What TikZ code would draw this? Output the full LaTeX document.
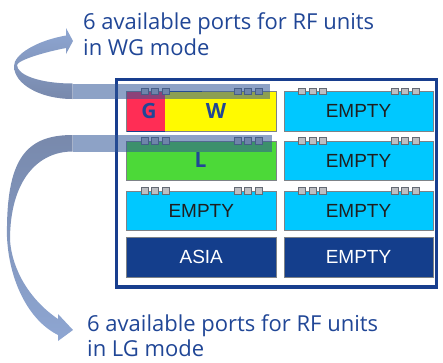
\documentclass[tikz,border=0pt]{standalone}
\usepackage{fontspec}
\setmainfont{Open Sans}
\newfontfamily\arialfont{Liberation Sans}

\definecolor{nokiablue}{RGB}{32,70,150}
\definecolor{framebl}{RGB}{24,62,142}
\definecolor{cyanmod}{RGB}{0,200,255}
\definecolor{darkmodc}{RGB}{20,62,140}
\definecolor{modborder}{RGB}{125,130,135}
\definecolor{gred}{RGB}{255,45,85}
\definecolor{wyellow}{RGB}{255,250,0}
\definecolor{lgreen}{RGB}{76,217,56}
\definecolor{bandblue}{RGB}{47,85,151}
\definecolor{portfill}{RGB}{188,190,194}
\definecolor{portdraw}{RGB}{100,106,116}
\definecolor{ribbonlight}{RGB}{142,166,210}
\definecolor{ribbondark}{RGB}{120,137,172}

\tikzset{
  module/.style={draw=modborder, line width=0.9pt, minimum width=149.5pt,
    minimum height=39.5pt, inner sep=0pt, outer sep=0pt, anchor=north west,
    font=\arialfont\fontsize{19}{19}\selectfont, text=black!88},
  emptymod/.style={module, fill=cyanmod},
  darkmod/.style={module, fill=darkmodc, text=white},
  letter/.style={font=\bfseries\fontsize{21}{21}\selectfont, text=nokiablue, inner sep=0pt},
  caption/.style={anchor=base west, inner sep=0pt, text=nokiablue,
    font=\fontsize{22}{26}\selectfont},
  port/.style={fill=portfill, draw=portdraw, line width=0.8pt},
  band/.style={fill=bandblue, fill opacity=0.55},
}

\begin{document}
\begin{tikzpicture}[x=1pt, y=-1pt]
\useasboundingbox (0,0) rectangle (443,362);

% rack frame
\node[draw=framebl, line width=3.5pt, minimum width=320pt, minimum height=207.5pt,
  anchor=north west, inner sep=0pt, outer sep=0pt] (rack) at (116.5,79.5) {};

% row 1
\node[module, fill=wyellow] (gwmod) at (126.5,91.5) {};
\node[anchor=north west, fill=gred, minimum width=38.5pt, minimum height=39.5pt,
  inner sep=0pt, outer sep=0pt] (gbox) at (126.5,91.5) {};
\draw[framebl, line width=1pt] (gbox.south west) -- (gbox.south east);
\draw[framebl, line width=1pt] (169,91.5) -- (202,91.5);
\node[letter] (glab) at (149,111) {G};
\node[letter] (wlab) at (216,111) {W};
\node[emptymod, minimum width=149pt] (e1) at (284,91.5) {EMPTY};

% row 2
\node[module, fill=lgreen] (lmod) at (126.5,141) {};
\node[letter] (llab) at (200.5,159.5) {L};
\node[emptymod, minimum width=149pt] (e2) at (284,141) {EMPTY};

% row 3
\node[emptymod] (e3) at (126.5,191) {EMPTY};
\node[emptymod, minimum width=149pt] (e4) at (284,191) {EMPTY};

% row 4
\node[darkmod, minimum height=40pt] (asia) at (126.5,237) {ASIA};
\node[darkmod, minimum width=149pt, minimum height=40pt] (e5) at (284,237) {EMPTY};

% RF ports on top of each module
\foreach \mx/\my/\mw in {126.5/91.5/149.5, 284/91.5/149, 126.5/141/149.5,
                         284/141/149, 126.5/191/149.5, 284/191/149}{
  \foreach \k in {0,1,2}{
    \path[port] ({\mx+14.5+10.5*\k},{\my-3.3}) rectangle ++(7,6.6);
    \path[port] ({\mx+\mw-42+10.5*\k},{\my-3.3}) rectangle ++(7,6.6);
  }
}

% port bands
\fill[band] (73.4,83.5) rectangle (269.5,99);
\fill[band] (73.4,135) rectangle (272,151.5);

% curved ribbon arrow to the WG caption
\shade[top color=ribbonlight, bottom color=ribbondark]
  (72.6,99) .. controls (40,99) and (14,84) .. (14,66)
  .. controls (14,55) and (35,41) .. (66,35.5)
  -- (66,28) -- (73,41) -- (66,54) -- (66,48)
  .. controls (45,52) and (18,60) .. (17,65)
  .. controls (17,75) and (40,83.5) .. (72.6,83.5) -- cycle;

% curved ribbon arrow to the LG caption
\shade[top color=ribbondark, bottom color=ribbonlight]
  (72.6,135) .. controls (25,135) and (6,160) .. (7,237)
  .. controls (9,280) and (28,320) .. (58,335)
  -- (58,341) -- (73,330) -- (58,314) -- (58,319)
  .. controls (30,300) and (12,270) .. (10,240)
  .. controls (10,180) and (38,151.5) .. (72.6,151.5) -- cycle;

% captions
\node[caption] (wg1) at (83,29) {6 available ports for RF units};
\node[caption] (wg2) at (83,55) {in WG mode};
\node[caption] (lg1) at (87,331) {6 available ports for RF units};
\node[caption] (lg2) at (87,356) {in LG mode};
\end{tikzpicture}
\end{document}
